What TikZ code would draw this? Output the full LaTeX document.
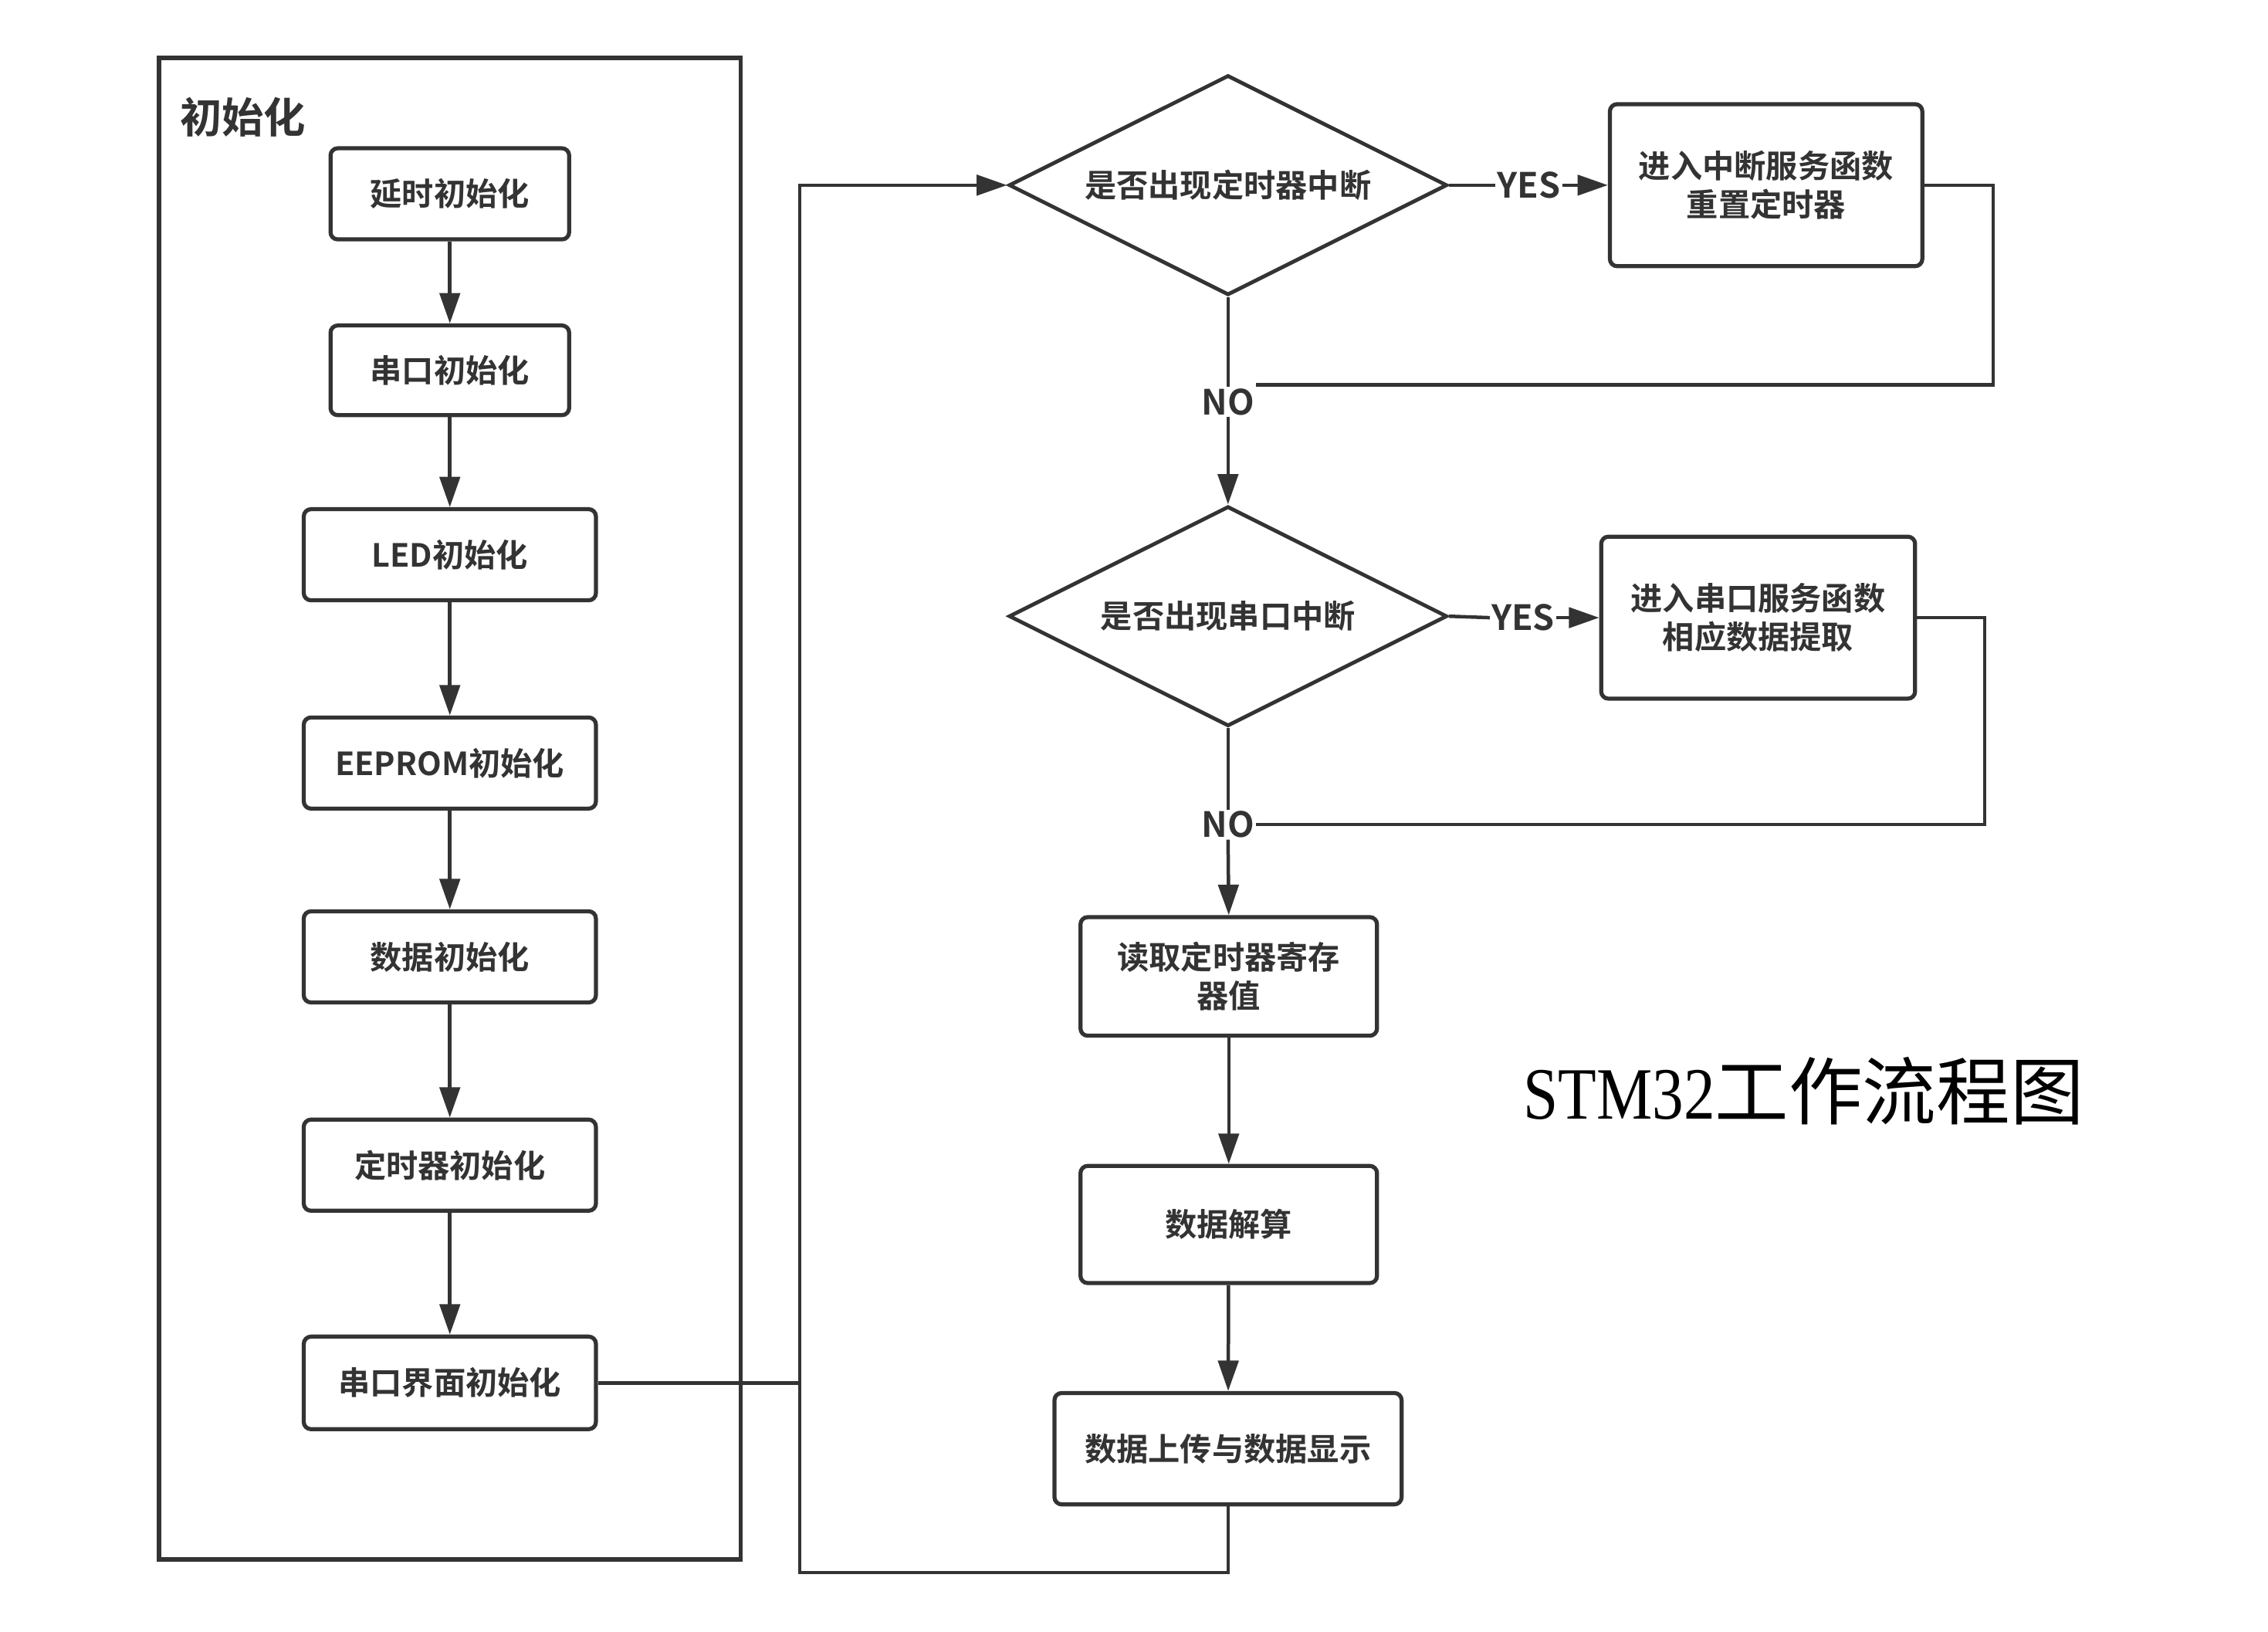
\documentclass[tikz,border=0pt]{standalone}
\usepackage{fontspec}
\setmainfont{Noto Sans CJK SC}[BoldFont={Noto Sans CJK SC Bold}]
\newfontfamily\serifl{Liberation Serif}
\usetikzlibrary{shapes.geometric,arrows.meta,calc}
\definecolor{ink}{HTML}{333333}
\begin{document}
\begin{tikzpicture}[x=1pt,y=-1pt,
  box/.style={draw=ink,line width=2.8pt,rounded corners=5pt,inner sep=0pt,
    font=\fontsize{22}{27}\selectfont\bfseries,text=ink,align=center},
  dec/.style={draw=ink,line width=2.6pt,shape=diamond,minimum width=303pt,
    minimum height=152pt,aspect=2,inner sep=0pt,
    font=\fontsize{22}{27}\selectfont\bfseries,text=ink},
  lab/.style={fill=white,inner sep=1pt,font=\fontsize{24}{28}\selectfont\bfseries,text=ink},
  conn/.style={draw=ink,line width=2.4pt},
  arr/.style={conn,-{Triangle[length=21pt,width=14pt]}}]
\path[fill=white] (0,0) rectangle (1568,1128);
\useasboundingbox (0,0) rectangle (1568,1128);
% init frame
\node[draw=ink,line width=2.8pt,minimum width=402pt,minimum height=1038pt,inner sep=0pt] (frame) at (311,559) {};
\node[font=\fontsize{29}{33}\selectfont\bfseries,text=ink] (ftitle) at (168,81) {初始化};
% init boxes
\node[box,minimum width=165pt,minimum height=63pt] (b1) at (311,134) {延时初始化};
\node[box,minimum width=165pt,minimum height=62pt] (b2) at (311,256) {串口初始化};
\node[box,minimum width=202pt,minimum height=63pt] (b3) at (311,383.5) {LED初始化};
\node[box,minimum width=202pt,minimum height=63pt] (b4) at (311,527.5) {EEPROM初始化};
\node[box,minimum width=202pt,minimum height=63pt] (b5) at (311,661.5) {数据初始化};
\node[box,minimum width=202pt,minimum height=63pt] (b6) at (311,805.5) {定时器初始化};
\node[box,minimum width=202pt,minimum height=64pt] (b7) at (311,956) {串口界面初始化};
% main loop
\node[dec] (d1) at (849,128) {是否出现定时器中断};
\node[box,minimum width=216pt,minimum height=112pt] (s1) at (1221,128) {进入中断服务函数\\重置定时器};
\node[dec] (d2) at (849,426) {是否出现串口中断};
\node[box,minimum width=217pt,minimum height=112pt] (s2) at (1215.5,427) {进入串口服务函数\\相应数据提取};
\node[box,minimum width=205pt,minimum height=82pt] (r1) at (849.5,675) {读取定时器寄存\\器值};
\node[box,minimum width=205pt,minimum height=81pt] (r2) at (849.5,846.5) {数据解算};
\node[box,minimum width=240pt,minimum height=77pt] (r3) at (849,1001.5) {数据上传与数据显示};
% title
\node[font=\fontsize{51}{56}\selectfont,text=black,inner sep=0pt] (title) at (1247,754) {{\serifl\scalebox{0.85}[1]{STM32}}工作流程图};
% labels
\node[lab] (y1) at (1057,128) {YES};
\node[lab] (y2) at (1053,427) {YES};
\node[lab] (n1) at (849,278) {NO};
\node[lab] (n2) at (849,570) {NO};
% coordinates
\coordinate (j1) at (553,956);
\coordinate (j2) at (553,128);
\coordinate (j3) at (849,1087);
\coordinate (j4) at (553,1087);
\coordinate (c1) at (1378,128);
\coordinate (c2) at (1378,266);
\coordinate (c3) at (1372,427);
\coordinate (c4) at (1372,570);
% connectors
\draw[arr] (b1) -- (b2);
\draw[arr] (b2) -- (b3);
\draw[arr] (b3) -- (b4);
\draw[arr] (b4) -- (b5);
\draw[arr] (b5) -- (b6);
\draw[arr] (b6) -- (b7);
\draw[arr] (b7.east) -- (j1) -- (j2) -- (d1.west);
\draw[conn] (r3.south) -- (j3) -- (j4) -- (j1);
\draw[conn] (d1.east) -- (y1.west);
\draw[arr] (y1.east) -- (s1.west);
\draw[conn] (d1.south) -- (n1.north);
\draw[arr] (n1.south) -- (d2.north);
\draw[conn] (s1.east) -- (c1) -- (c2) -- (c2 -| n1.east);
\draw[conn] (d2.east) -- (y2.west);
\draw[arr] (y2.east) -- (s2.west);
\draw[conn] (d2.south) -- (n2.north);
\draw[arr] (n2.south) -- (r1.north);
\draw[conn] (s2.east) -- (c3) -- (c4) -- (n2.east);
\draw[arr] (r1) -- (r2);
\draw[arr] (r2) -- (r3);
\end{tikzpicture}
\end{document}
